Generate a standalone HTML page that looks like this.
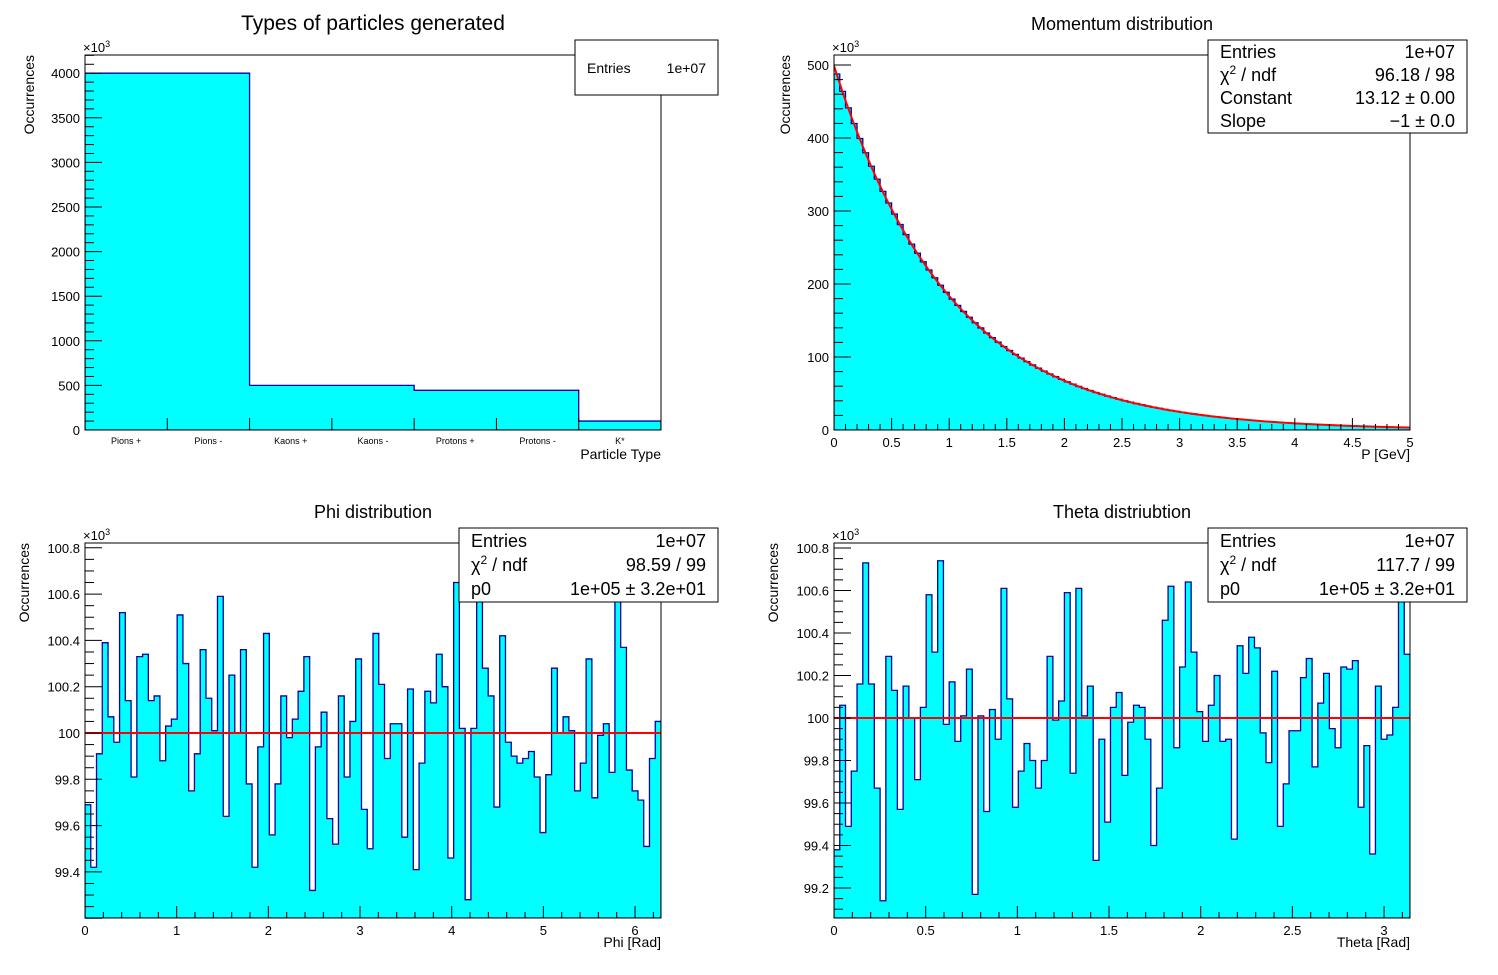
<!DOCTYPE html>
<html><head><meta charset="utf-8"><style>
html,body{margin:0;padding:0;background:#fff;}
svg{display:block;font-family:"Liberation Sans",sans-serif;}
</style></head><body>
<svg id="c" width="1498" height="975" xmlns="http://www.w3.org/2000/svg"></svg>
<script>
// ---- data ----
const typeCategories = ["Pions +","Pions -","Kaons +","Kaons -","Protons +","Protons -","K*"];
const typeCounts = [4000,4000,500,500,445,445,100];
const momValues = [487.7,463.9,441.3,419.8,399.3,379.8,361.3,343.7,326.9,311.0,295.8,281.4,267.7,254.6,242.2,230.4,219.2,208.5,198.3,188.6,179.4,170.7,162.4,154.5,146.9,139.8,132.9,126.5,120.3,114.4,108.8,103.5,98.5,93.7,89.1,84.8,80.6,76.7,73.0,69.4,66.0,62.8,59.7,56.8,54.1,51.4,48.9,46.5,44.3,42.1,40.0,38.1,36.2,34.5,32.8,31.2,29.7,28.2,26.8,25.5,24.3,23.1,22.0,20.9,19.9,18.9,18.0,17.1,16.3,15.5,14.7,14.0,13.3,12.7,12.1,11.5,10.9,10.4,9.9,9.4,8.9,8.5,8.1,7.7,7.3,7.0,6.6,6.3,6.0,5.7,5.4,5.1,4.9,4.7,4.4,4.2,4.0,3.8,3.6,3.5];
const momFit = [13.12,-1];
const phiValues = [99.69,99.42,99.91,100.39,100.07,99.96,100.52,100.14,99.81,100.33,100.34,100.14,100.16,99.88,100.03,100.06,100.51,100.30,99.75,99.91,100.36,100.15,100.01,100.59,99.64,100.25,100.00,100.36,99.78,99.42,99.94,100.43,99.56,99.78,100.16,99.98,100.06,100.18,100.33,99.32,99.94,100.09,99.63,99.52,100.16,99.81,100.05,100.32,99.67,99.50,100.43,100.21,99.89,100.04,100.04,99.55,100.19,99.41,99.87,100.18,100.13,100.34,100.20,99.46,100.65,100.02,99.28,100.02,100.58,100.28,100.16,99.68,100.42,99.96,99.90,99.87,99.89,99.92,99.81,99.57,99.82,100.28,100.00,100.07,100.01,99.75,99.87,100.32,99.72,99.99,100.04,99.83,100.62,100.37,99.84,99.75,99.71,99.51,99.89,100.05];
const phiFit = [100.0];
const thetaValues = [99.38,100.06,99.49,99.75,100.16,100.73,100.16,99.67,99.14,100.29,100.13,99.57,100.15,100.00,99.71,100.05,100.58,100.31,100.74,99.97,100.17,99.89,100.01,100.23,99.17,100.01,99.56,100.04,99.90,100.61,100.09,99.58,99.75,99.88,99.80,99.67,99.80,100.29,99.99,100.08,100.59,99.74,100.61,100.01,100.15,99.33,99.90,99.51,100.05,100.12,99.73,99.98,100.06,100.05,99.90,99.40,99.67,100.46,100.62,99.86,100.24,100.64,100.31,100.03,99.89,100.06,100.20,99.89,99.90,99.43,100.34,100.21,100.38,100.33,99.93,99.79,100.22,99.49,99.69,99.94,99.94,100.19,100.28,99.77,100.07,100.21,99.95,99.86,100.24,100.23,100.27,99.58,99.87,99.36,100.15,99.90,99.92,100.05,100.62,100.30];
const thetaFit = [100.0];
const momTicks = ["0","0.5","1","1.5","2","2.5","3","3.5","4","4.5","5"];
const phiTicks = ["0","1","2","3","4","5","6"];
const thetaTicks = ["0","0.5","1","1.5","2","2.5","3"];

const NS="http://www.w3.org/2000/svg";
const svg=document.getElementById('c');
function mk(tag,attrs,parent){const e=document.createElementNS(NS,tag);for(const k in attrs)e.setAttribute(k,attrs[k]);(parent||svg).appendChild(e);return e;}
function txt(s,x,y,size,anchor,parent,extra){const e=mk('text',Object.assign({x:x,y:y,'font-size':size,'text-anchor':anchor||'start',fill:'#000'},extra||{}),parent);e.textContent=s;return e;}

function pad(o){
  const g=mk('g',{});
  
  
  const sx=v=>o.x0+(v-o.xmin)/(o.xmax-o.xmin)*(o.x1-o.x0);
  const sy=v=>o.y1-(v-o.ymin)/(o.ymax-o.ymin)*(o.y1-o.y0);
  const cid='clip-'+o.name;
  const cp=mk('clipPath',{id:cid},g);mk('rect',{x:o.x0,y:o.y0,width:o.x1-o.x0,height:o.y1-o.y0},cp);
  const n=o.values.length,bw=(o.xmax-o.xmin)/n;
  let d='M'+sx(o.xmin)+','+sy(o.ymin);
  o.values.forEach((v,i)=>{d+=' L'+sx(o.xmin+i*bw)+','+sy(v)+' L'+sx(o.xmin+(i+1)*bw)+','+sy(v);});
  d+=' L'+sx(o.xmax)+','+sy(o.ymin)+' Z';
  const h=mk('path',{d:d,fill:'#00ffff',stroke:'#0000a0','stroke-width':1.3,'clip-path':'url(#'+cid+')'},g);
  
  
  if(o.fit){
    let fd='';
    for(let k=0;k<=200;k++){const xv=o.xmin+(o.xmax-o.xmin)*k/200;fd+=(k?' L':'M')+sx(xv)+','+sy(o.fit(xv));}
    const f=mk('path',{d:fd,fill:'none',stroke:'#ff0000','stroke-width':2,'clip-path':'url(#'+cid+')'},g);
    
    
  }
  const fr=mk('rect',{x:o.x0,y:o.y0,width:o.x1-o.x0,height:o.y1-o.y0,fill:'none',stroke:'#000','stroke-width':1},g);
  
  
  for(let v=o.ymin;v<=o.ymax+1e-9;v+=o.yminor){
    const vv=Math.round(v/o.yminor)*o.yminor;
    const major=Math.abs(vv/o.ymajor-Math.round(vv/o.ymajor))<1e-6;
    if(sy(vv)<o.y0-0.5||sy(vv)>o.y1+0.5)continue;
    mk('line',{x1:o.x0,x2:o.x0+(major?17:9),y1:sy(vv),y2:sy(vv),stroke:'#000','stroke-width':1},g);
    if(major&&o.ylab&&(o.y1-sy(vv)>3||vv===0)){const t=txt(o.ylab(vv),o.x0-5,sy(vv)+5,13,'end',g);}
  }
  if(o.xticks){
    for(let v=o.xmin;v<=o.xmax+1e-9;v+=o.xminor){
      const vv=Math.round(v/o.xminor)*o.xminor;
      const major=Math.abs(vv/o.xmajor-Math.round(vv/o.xmajor))<1e-6;
      mk('line',{x1:sx(vv),x2:sx(vv),y1:o.y1,y2:o.y1-(major?12:6),stroke:'#000','stroke-width':1},g);
    }
    o.xticks.forEach((s,i)=>{const t=txt(s,sx(i*o.xmajor),o.y1+17,13,'middle',g);});
  }
  const ex=txt('×10',o.x0-2,o.y0-3,13,'start',g);
  const e3=mk('tspan',{'font-size':9,dy:-5},ex);e3.textContent='3';
  const tt=txt(o.title,o.tx,o.ty,o.tsize,'middle',g);
  const yt=txt('Occurrences',0,0,14,'end',g,{transform:'translate('+o.ytx+','+o.y0+') rotate(-90)'});
  const xt=txt(o.xtitle,o.x1,o.y1+29,14,'end',g);
  const sb=mk('g',{},g);
  
  
  mk('rect',{x:o.sbx,y:o.sby,width:o.sbw,height:o.sbh,fill:'#fff',stroke:'#000','stroke-width':1},sb);
  o.stats.forEach((r,i)=>{
    const yy=o.sby+o.sfirst+i*o.sstep;
    const a=txt(r[0],o.sbx+12,yy,o.ssize,'start',sb);a.innerHTML=r[0];
    const b=txt('',o.sbx+o.sbw-12,yy,o.ssize,'end',sb);b.innerHTML=r[1];
  });
  return {g,sx,sy};
}

const p1=pad({name:'particle-types-pad',x0:85,x1:661,y0:55,y1:430,xmin:0,xmax:7,ymin:0,ymax:4204,values:typeCounts,
  ymajor:500,yminor:100,ylab:v=>String(Math.round(v)),title:'Types of particles generated',tx:373,ty:30,tsize:21,ytx:34,
  xtitle:'Particle Type',sbx:575,sby:40,sbw:143,sbh:55,stats:[['Entries','1e+07']],sfirst:33,sstep:20,ssize:14});
typeCategories.forEach((c,i)=>{
  const t=txt(c,p1.sx(i+0.5),p1.sy(0)+14,9,'middle',p1.g);
  
  
  if(i>0) mk('line',{x1:p1.sx(i),x2:p1.sx(i),y1:430,y2:418,stroke:'#000'},p1.g);
});

pad({name:'momentum-pad',x0:834,x1:1410,y0:55,y1:430,xmin:0,xmax:5,ymin:0,ymax:513.7,values:momValues,
  fit:x=>Math.exp(momFit[0]+momFit[1]*x)/1000,
  ymajor:100,yminor:20,ylab:v=>String(Math.round(v)),xticks:momTicks,xmajor:0.5,xminor:0.1,
  title:'Momentum distribution',tx:1122,ty:30,tsize:18,ytx:790,xtitle:'P [GeV]',
  sbx:1208,sby:40,sbw:259,sbh:93,stats:[['Entries','1e+07'],['χ<tspan font-size="12" dy="-7">2</tspan><tspan dy="7"> / ndf</tspan>','96.18 / 98'],['Constant','13.12 ± 0.00'],['Slope','−1 ± 0.0']],sfirst:18,sstep:23,ssize:18});

pad({name:'phi-pad',x0:85,x1:661,y0:543,y1:918,xmin:0,xmax:2*Math.PI,ymin:99.2009,ymax:100.8207,values:phiValues,
  fit:x=>phiFit[0],ymajor:0.2,yminor:0.05,ylab:v=>(Math.round(v*10)/10).toString(),
  xticks:phiTicks,xmajor:1,xminor:0.2,title:'Phi distribution',tx:373,ty:518,tsize:18,ytx:29,xtitle:'Phi [Rad]',
  sbx:459,sby:528,sbw:259,sbh:74,stats:[['Entries','1e+07'],['χ<tspan font-size="12" dy="-7">2</tspan><tspan dy="7"> / ndf</tspan>','98.59 / 99'],['p0','1e+05 ± 3.2e+01']],sfirst:19,sstep:24,ssize:18});

pad({name:'theta-pad',x0:834,x1:1410,y0:543,y1:918,xmin:0,xmax:Math.PI,ymin:99.0588,ymax:100.8235,values:thetaValues,
  fit:x=>thetaFit[0],ymajor:0.2,yminor:0.05,ylab:v=>(Math.round(v*10)/10).toString(),
  xticks:thetaTicks,xmajor:0.5,xminor:0.1,title:'Theta distriubtion',tx:1122,ty:518,tsize:18,ytx:778,xtitle:'Theta [Rad]',
  sbx:1208,sby:528,sbw:259,sbh:74,stats:[['Entries','1e+07'],['χ<tspan font-size="12" dy="-7">2</tspan><tspan dy="7"> / ndf</tspan>','117.7 / 99'],['p0','1e+05 ± 3.2e+01']],sfirst:19,sstep:24,ssize:18});
</script>
</body></html>
